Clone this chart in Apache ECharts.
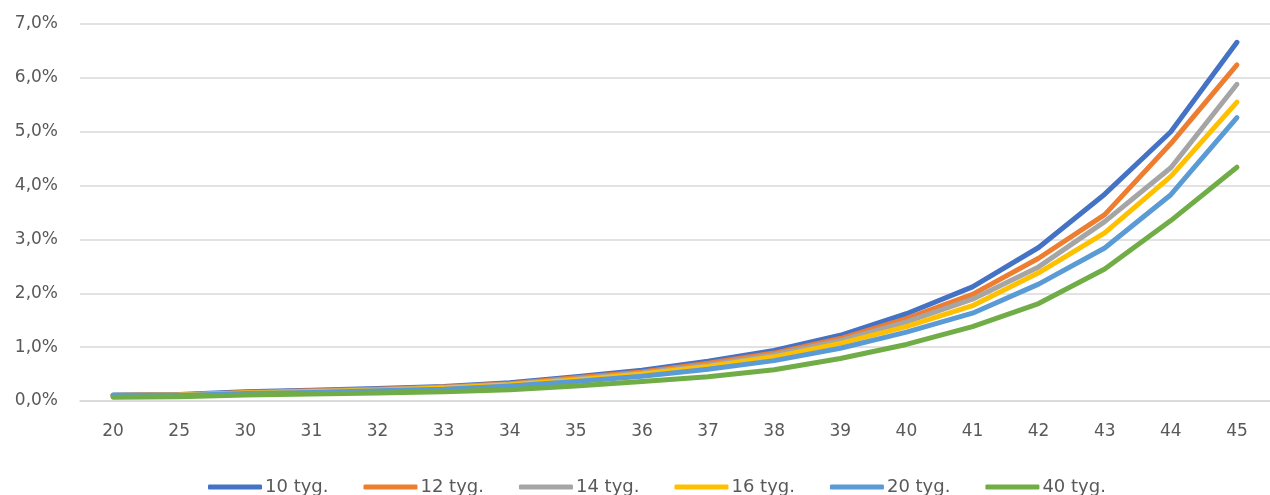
<!DOCTYPE html>
<html>
<head>
<meta charset="utf-8">
<script src="https://cdn.jsdelivr.net/npm/echarts@6/dist/echarts.min.js"></script>
<style>
html,body{margin:0;padding:0;background:#fff;}
#c{width:1270px;height:495px;}
</style>
</head>
<body>
<div id="c"></div>
<script>
const categories = ['20','25','30','31','32','33','34','35','36','37','38','39','40','41','42','43','44','45'];
const seriesNames = ['10 tyg.','12 tyg.','14 tyg.','16 tyg.','20 tyg.','40 tyg.'];
const s10 = [0.11,0.12,0.17,0.20,0.23,0.27,0.34,0.45,0.57,0.74,0.94,1.22,1.62,2.12,2.85,3.84,5.00,6.66];
const s12 = [0.10,0.11,0.16,0.19,0.22,0.26,0.32,0.43,0.54,0.70,0.89,1.16,1.53,1.98,2.65,3.46,4.78,6.24];
const s14 = [0.10,0.11,0.15,0.18,0.21,0.25,0.31,0.41,0.52,0.67,0.86,1.12,1.47,1.89,2.49,3.33,4.33,5.88];
const s16 = [0.10,0.11,0.15,0.17,0.20,0.24,0.30,0.39,0.50,0.64,0.82,1.07,1.38,1.77,2.38,3.12,4.17,5.55];
const s20 = [0.10,0.10,0.14,0.16,0.19,0.22,0.28,0.36,0.46,0.59,0.75,0.98,1.28,1.63,2.17,2.84,3.83,5.26];
const s40 = [0.07,0.08,0.11,0.13,0.15,0.17,0.21,0.28,0.36,0.45,0.58,0.79,1.05,1.38,1.81,2.45,3.35,4.34];
const allData = [s10,s12,s14,s16,s20,s40];
const colors = ['#4472C4','#ED7D31','#A5A5A5','#FFC000','#5B9BD5','#70AD47'];

const chart = echarts.init(document.getElementById('c'), null, {renderer:'canvas'});
const font = 'DejaVu Sans, sans-serif';
chart.setOption({
  animation:false,
  color: colors,
  textStyle:{fontFamily:font},
  legend:{
    data: seriesNames,
    left: 208,
    top: 478,
    padding: 0,
    icon: 'roundRect',
    itemWidth: 54,
    itemHeight: 5,
    itemGap: 35,
    textStyle:{fontSize:18, color:'#595959', fontFamily:font, padding:[0,0,0,-2]}
  },
  grid:{left:80, top:24, width:1204, height:377, containLabel:false},
  xAxis:{
    type:'category',
    data: categories,
    boundaryGap:true,
    axisLine:{show:true, lineStyle:{color:'#d9d9d9', width:1.5}},
    axisTick:{show:false},
    axisLabel:{fontSize:17, color:'#595959', margin:22, fontFamily:font}
  },
  yAxis:{
    type:'value',
    min:0, max:7, interval:1,
    axisLine:{show:false},
    axisTick:{show:false},
    splitLine:{lineStyle:{color:'#d9d9d9', width:1.5}},
    axisLabel:{fontSize:17, color:'#595959', margin:22, fontFamily:font,
      formatter: v => v.toFixed(1).replace('.', ',') + '%'}
  },
  series: seriesNames.map((n,i)=>({
    name:n,
    type:'line',
    data: allData[i],
    symbol:'none',
    smooth:false,
    lineStyle:{width:5, cap:'round', join:'round', color:colors[i]},
    itemStyle:{color:colors[i]}
  }))
});
</script>
</body>
</html>
